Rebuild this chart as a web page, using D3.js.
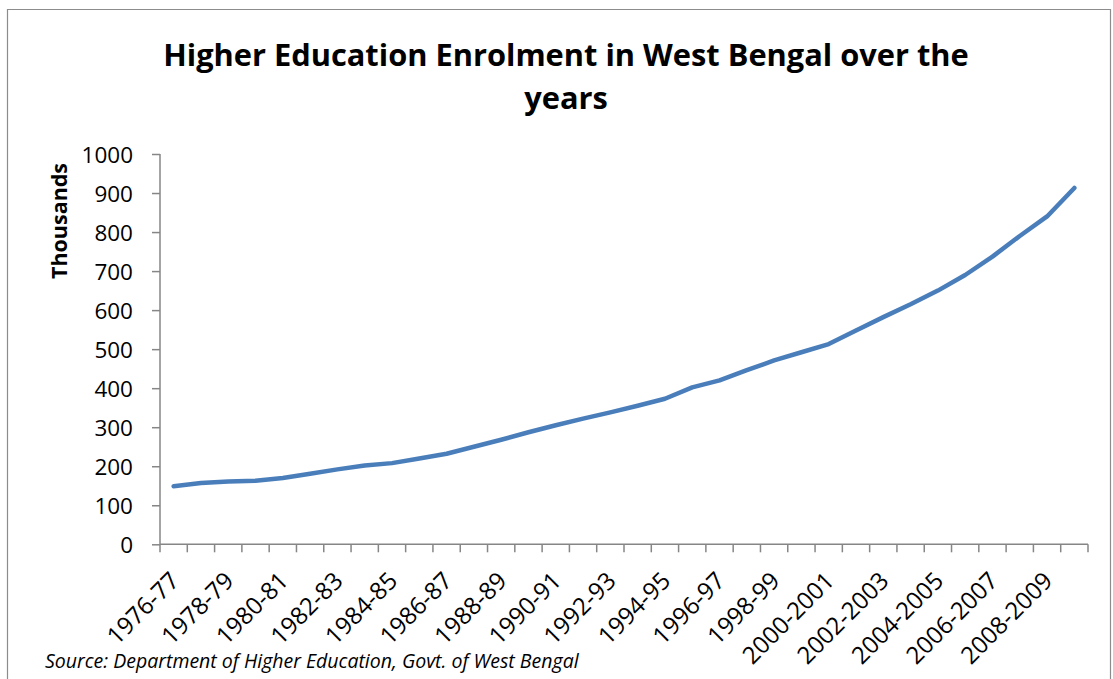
<!DOCTYPE html>
<html>
<head>
<meta charset="utf-8">
<script src="https://cdn.jsdelivr.net/npm/d3@7/dist/d3.min.js"></script>
<style>
  html, body { margin: 0; padding: 0; background: #fff; }
  svg { display: block; }
  text { font-family: "Open Sans", "Lato", sans-serif; fill: #000; }
</style>
</head>
<body>
<svg id="chart" width="1113" height="679"></svg>
<script>
const categories = [
  "1976-77","1977-78","1978-79","1979-80","1980-81","1981-82","1982-83","1983-84",
  "1984-85","1985-86","1986-87","1987-88","1988-89","1989-90","1990-91","1991-92",
  "1992-93","1993-94","1994-95","1995-96","1996-97","1997-98","1998-99","1999-2000",
  "2000-2001","2001-2002","2002-2003","2003-2004","2004-2005","2005-2006","2006-2007",
  "2007-2008","2008-2009","2009-2010"
];
const enrolment = [
  149, 157, 161, 163, 170, 181, 192, 202,
  208, 220, 232, 250, 268, 287, 305, 322,
  338, 355, 373, 402, 420, 446, 471, 492,
  513, 548, 582, 615, 650, 690, 737,
  790, 840, 913
];
const yTicks = [0,100,200,300,400,500,600,700,800,900,1000];
const titleLines = ["Higher Education Enrolment in West Bengal over the", "years"];
const yTitle = "Thousands";
const sourceText = "Source: Department of Higher Education, Govt. of West Bengal";

(function () {
const svg = d3.select("#chart");
const pLeft = 160, pRight = 1088, pTop = 154, pBottom = 544.3;

// outer border
svg.append("path")
  .attr("d", "M7.5,679 V9.5 H1110.5 V679")
  .attr("fill", "none").attr("stroke", "#8c8c8c").attr("stroke-width", 1.2);

const x = d3.scaleBand().domain(categories).range([pLeft, pRight]).padding(0);
const y = d3.scaleLinear().domain([0, 1000]).range([pBottom, pTop]);

const axisColor = "#868686";

// y axis
const yAxis = svg.append("g").attr("transform", `translate(${pLeft},0)`)
  .call(d3.axisLeft(y).tickValues(yTicks).tickSize(8).tickPadding(19).tickFormat(d3.format("d")));
yAxis.select(".domain").attr("stroke", axisColor).attr("stroke-width", 1.5).attr("d", `M0,${pTop}V${pBottom}`);
yAxis.selectAll(".tick line").attr("stroke", axisColor).attr("stroke-width", 1.5);
yAxis.selectAll(".tick text").style("font-size", "22.5px").attr("fill", "#000").attr("dy", "0.36em");

// x axis
const xAxis = svg.append("g").attr("transform", `translate(0,${pBottom})`)
  .call(d3.axisBottom(x).tickSize(0).tickPadding(0).tickFormat((d, i) => i % 2 === 0 ? d : ""));
xAxis.select(".domain").attr("stroke", axisColor).attr("stroke-width", 1.5).attr("d", `M${pLeft},0H${pRight}`);
const boundaries = categories.map(c => x(c)).concat([pRight]);
xAxis.selectAll(".bnd").data(boundaries).join("line")
  .attr("class", "bnd")
  .attr("x1", d => d).attr("x2", d => d).attr("y1", 0).attr("y2", 8)
  .attr("stroke", axisColor).attr("stroke-width", 1.5);
xAxis.selectAll(".tick text")
  .style("font-size", "24px")
  .attr("fill", "#000")
  .attr("text-anchor", "end")
  .attr("dy", null).attr("y", null)
  .attr("transform", "translate(7,38) rotate(-45)");

// line
const line = d3.line()
  .x((d, i) => x(categories[i]) + x.bandwidth() / 2)
  .y(d => y(d));
svg.append("path").datum(enrolment)
  .attr("d", line)
  .attr("fill", "none")
  .attr("stroke", "#4a7ebb")
  .attr("stroke-width", 4.5)
  .attr("stroke-linejoin", "round")
  .attr("stroke-linecap", "round");

// title
svg.append("text").attr("x", 566).attr("y", 66).attr("text-anchor", "middle")
  .style("font-size", "30.8px").style("font-weight", "bold").text(titleLines[0]);
svg.append("text").attr("x", 566).attr("y", 109).attr("text-anchor", "middle")
  .style("font-size", "30.8px").style("font-weight", "bold").text(titleLines[1]);

// y title
svg.append("text").attr("transform", "translate(67,221) rotate(-90)")
  .attr("text-anchor", "middle").style("font-size", "21.5px").style("font-weight", "bold").text(yTitle);

// source
svg.append("text").attr("x", 45).attr("y", 668)
  .style("font-size", "19.5px").style("font-style", "italic").text(sourceText);
})();
</script>
</body>
</html>
